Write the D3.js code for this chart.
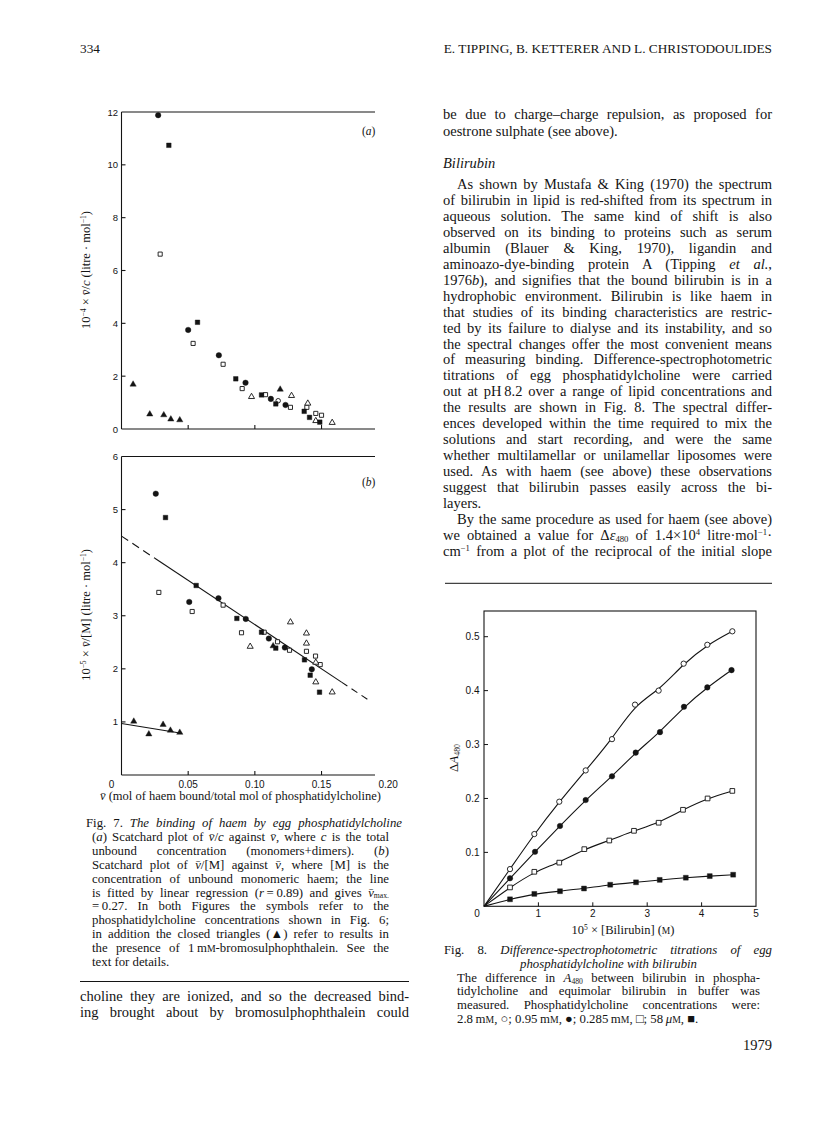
<!DOCTYPE html>
<html>
<head>
<meta charset="utf-8">
<script src="https://cdn.jsdelivr.net/npm/d3@7"></script>
<style>
body { margin: 0; background: #fff; }
svg { display: block; }
.serif { font-family: "Liberation Serif", "Times New Roman", serif; }
.sans { font-family: "Liberation Sans", Arial, sans-serif; }
</style>
</head>
<body>
<svg id="page" width="816" height="1136"></svg>
<script>
'use strict';

// ---- Fig. 7 data: [nu, value] ----
// (a) nu/c, 10^-4 litre/mol
let aClosedCircle = [[0.0275, 11.88], [0.050, 3.75], [0.073, 2.79], [0.093, 1.75], [0.112, 1.14], [0.123, 0.91]];
let aClosedSquare = [[0.0355, 10.74], [0.057, 4.04], [0.0857, 1.90], [0.105, 1.29], [0.1157, 0.95], [0.137, 0.67], [0.141, 0.44], [0.1487, 0.26]];
let aOpenSquare = [[0.029, 6.62], [0.0537, 3.24], [0.0762, 2.45], [0.0905, 1.53], [0.108, 1.30], [0.1267, 0.82], [0.139, 0.82], [0.1457, 0.59], [0.150, 0.52]];
let aOpenCircle = [[0.1175, 1.07]];
let aOpenTriangle = [[0.0975, 1.22], [0.1275, 1.26], [0.1397, 0.97], [0.1457, 0.31], [0.158, 0.24]];
let aClosedTriangle = [[0.0087, 1.69], [0.0212, 0.56], [0.0317, 0.53], [0.037, 0.37], [0.0437, 0.34], [0.119, 1.50]];

// (b) nu/[M], 10^-5 litre/mol
let bClosedCircle = [[0.0257, 5.30], [0.0508, 3.26], [0.0727, 3.33], [0.0932, 2.94], [0.1105, 2.57], [0.1225, 2.40], [0.1427, 1.99]];
let bClosedSquare = [[0.033, 4.85], [0.056, 3.57], [0.0865, 2.95], [0.105, 2.69], [0.1157, 2.39], [0.1372, 2.17], [0.1415, 1.88], [0.1485, 1.56]];
let bOpenSquare = [[0.028, 3.44], [0.053, 3.08], [0.0762, 3.20], [0.090, 2.68], [0.107, 2.69], [0.117, 2.51], [0.126, 2.35], [0.1387, 2.33], [0.1455, 2.24], [0.149, 2.08]];
let bOpenTriangle = [[0.0965, 2.42], [0.1267, 2.88], [0.1387, 2.67], [0.1387, 2.48], [0.1457, 2.12], [0.1457, 1.75], [0.158, 1.56]];
let bClosedTriangle = [[0.0092, 1.01], [0.0205, 0.77], [0.0312, 0.95], [0.0367, 0.84], [0.0437, 0.80], [0.1137, 2.43]];

// regression line of (b) and the short line through the bromosulphophthalein points
let fitIntercept = 4.5;
let fitVmax = 0.27;
let fitSolidFrom = 0.025, fitSolidTo = 0.165, fitEnd = 0.187;
let bspLine = [[0, 0.97], [0.045, 0.785]];

let nuTicks = [0.05, 0.10, 0.15];
let nuTickLabels = ["0", "0.05", "0.10", "0.15", "0.20"];
let aTicks = [0, 2, 4, 6, 8, 10, 12];
let bTicks = [1, 2, 3, 4, 5, 6];

// ---- Fig. 8 data: [10^5 x bilirubin (M), delta A480] ----
let pc28mM = [[0.478, 0.069], [0.925, 0.134], [1.384, 0.194], [1.869, 0.252], [2.353, 0.310], [2.776, 0.374], [3.21, 0.400], [3.67, 0.450], [4.105, 0.485], [4.565, 0.510]];
let pc095mM = [[0.478, 0.052], [0.938, 0.101], [1.397, 0.149], [1.869, 0.197], [2.353, 0.241], [2.789, 0.285], [3.235, 0.323], [3.676, 0.370], [4.105, 0.406], [4.55, 0.438]];
let pc0285mM = [[0.478, 0.035], [0.925, 0.064], [1.384, 0.081], [1.844, 0.106], [2.303, 0.122], [2.757, 0.140], [3.21, 0.155], [3.658, 0.179], [4.11, 0.200], [4.565, 0.214]];
let pc58uM = [[0.478, 0.013], [0.925, 0.023], [1.397, 0.028], [1.838, 0.033], [2.32, 0.040], [2.794, 0.0445], [3.23, 0.049], [3.71, 0.053], [4.15, 0.056], [4.58, 0.0586]];
let bilTicks = [0, 1, 2, 3, 4, 5];
let dATicks = [0.1, 0.2, 0.3, 0.4, 0.5];

// ---- page text ----
let headerLeft = "334";
let headerRight = "E. TIPPING, B. KETTERER AND L. CHRISTODOULIDES";

let rightColTop = [
    "be due to charge\u2013charge repulsion, as proposed for",
    "oestrone sulphate (see above)."];
let rightColHeading = "Bilirubin";
let rightColBody = [
    ["As shown by Mustafa & King (1970) the spectrum", "p"],
    ["of bilirubin in lipid is red-shifted from its spectrum in", "j"],
    ["aqueous solution. The same kind of shift is also", "j"],
    ["observed on its binding to proteins such as serum", "j"],
    ["albumin (Blauer & King, 1970), ligandin and", "j"],
    ["aminoazo-dye-binding protein A (Tipping <i>et al.</i>,", "j"],
    ["1976<i>b</i>), and signifies that the bound bilirubin is in a", "j"],
    ["hydrophobic environment. Bilirubin is like haem in", "j"],
    ["that studies of its binding characteristics are restric-", "j"],
    ["ted by its failure to dialyse and its instability, and so", "j"],
    ["the spectral changes offer the most convenient means", "j"],
    ["of measuring binding. Difference-spectrophotometric", "j"],
    ["titrations of egg phosphatidylcholine were carried", "j"],
    ["out at pH\u20098.2 over a range of lipid concentrations and", "j"],
    ["the results are shown in Fig. 8. The spectral differ-", "j"],
    ["ences developed within the time required to mix the", "j"],
    ["solutions and start recording, and were the same", "j"],
    ["whether multilamellar or unilamellar liposomes were", "j"],
    ["used. As with haem (see above) these observations", "j"],
    ["suggest that bilirubin passes easily across the bi-", "j"],
    ["layers.", "l"],
    ["By the same procedure as used for haem (see above)", "p"],
    ["we obtained a value for \u0394<i>\u03b5</i><sub>480</sub> of 1.4\u00d710<sup>4</sup> litre\u00b7mol<sup>\u22121</sup>\u00b7", "j"],
    ["cm<sup>\u22121</sup> from a plot of the reciprocal of the initial slope", "j"]];

let leftColBottom = [
    ["choline they are ionized, and so the decreased bind-", "j"],
    ["ing brought about by bromosulphophthalein could", "j"]];

let fig7Caption = [
    ["Fig. 7. <i>The binding of haem by egg phosphatidylcholine</i>", "t"],
    ["(<i>a</i>) Scatchard plot of <i>v\u0304</i>/<i>c</i> against <i>v\u0304</i>, where <i>c</i> is the total", "j"],
    ["unbound concentration (monomers+dimers). (<i>b</i>)", "j"],
    ["Scatchard plot of <i>v\u0304</i>/[M] against <i>v\u0304</i>, where [M] is the", "j"],
    ["concentration of unbound monomeric haem; the line", "j"],
    ["is fitted by linear regression (<i>r</i>\u2009=\u20090.89) and gives <i>v\u0304</i><sub>max.</sub>", "j"],
    ["=\u20090.27. In both Figures the symbols refer to the", "j"],
    ["phosphatidylcholine concentrations shown in Fig. 6;", "j"],
    ["in addition the closed triangles (\u25b2) refer to results in", "j"],
    ["the presence of 1\u2009m<sc>M</sc>-bromosulphophthalein. See the", "j"],
    ["text for details.", "l"]];

let fig8Caption = [
    ["Fig. 8. <i>Difference-spectrophotometric titrations of egg</i>", "t"],
    ["<i>phosphatidylcholine with bilirubin</i>", "c"],
    ["The difference in <i>A</i><sub>480</sub> between bilirubin in phospha-", "j"],
    ["tidylcholine and equimolar bilirubin in buffer was", "j"],
    ["measured. Phosphatidylcholine concentrations were:", "j"],
    ["2.8\u2009m<sc>M</sc>, \u25cb; 0.95\u2009m<sc>M</sc>, \u25cf; 0.285\u2009m<sc>M</sc>, \u25a1; 58\u2009<i>\u03bc</i><sc>M</sc>, \u25a0.", "l"]];

const ink = "#141414";
const bodySize = 14.5, capSize = 12.8;
const svg = d3.select("#page");

// text with <i>, <sub>, <sup>, <sc> runs
function rich(parent, str, x, y, size, cls) {
    let t = parent.append("text").attr("class", cls || "serif")
        .attr("x", x).attr("y", y).attr("font-size", size).attr("fill", ink);
    let it = false, sub = false, sup = false, sc = false, off = 0;
    str.split(/(<\/?(?:i|sub|sup|sc)>)/).forEach(tok => {
        if (tok === "") return;
        let m = tok.match(/^<(\/?)(i|sub|sup|sc)>$/);
        if (m) {
            let on = m[1] === "";
            if (m[2] === "i") it = on;
            else if (m[2] === "sub") sub = on;
            else if (m[2] === "sup") sup = on;
            else sc = on;
            return;
        }
        let want = sub ? size * 0.15 : (sup ? -size * 0.34 : 0);
        let ts = t.append("tspan").text(tok);
        if (want !== off) { ts.attr("dy", want - off); off = want; }
        if (it) ts.attr("font-style", "italic");
        if (sub || sup) ts.attr("font-size", size * 0.6);
        else if (sc) ts.attr("font-size", size * 0.76);
    });
    return t;
}

function justify(t, x0, x1) {
    let n = t.node();
    let w = n.getComputedTextLength();
    let spaces = (n.textContent.match(/ /g) || []).length;
    if (w > x1 - x0) {
        t.attr("textLength", x1 - x0).attr("lengthAdjust", "spacingAndGlyphs");
    } else if (spaces > 0) {
        t.style("word-spacing", ((x1 - x0 - w) / spaces) + "px");
    }
}

function setLines(lines, x0, x1, y0, step, size, indent, firstX0, firstX1) {
    lines.forEach((ln, i) => {
        let [str, mode] = ln;
        let y = y0 + i * step;
        if (mode === "c") {
            rich(svg, str, (x0 + x1) / 2, y, size).attr("text-anchor", "middle");
        } else if (mode === "t") {
            justify(rich(svg, str, firstX0, y, size), firstX0, firstX1);
        } else {
            let xs = mode === "p" ? x0 + indent : x0;
            let t = rich(svg, str, xs, y, size);
            if (mode !== "l") justify(t, xs, x1);
        }
    });
}

// ---- header ----
svg.append("text").attr("class", "serif").attr("x", 80).attr("y", 53)
    .attr("font-size", 13.3).attr("fill", ink).text(headerLeft);
svg.append("text").attr("class", "serif").attr("x", 772).attr("y", 53)
    .attr("font-size", 13.3).attr("fill", ink).attr("text-anchor", "end").text(headerRight);

// ---- right column text ----
const rL = 443, rR = 772;
rightColTop.forEach((s, i) => {
    let t = rich(svg, s, rL, 119 + i * 17, bodySize);
    if (i === 0) justify(t, rL, rR);
});
rich(svg, "<i>" + rightColHeading + "</i>", rL, 167.5, bodySize);
setLines(rightColBody, rL, rR, 189, 15.95, bodySize, 14);

// ---- left column bottom text ----
const lL = 80, lR = 409;
setLines(leftColBottom, lL, lR, 1001, 15.5, bodySize, 0);
svg.append("line").attr("x1", lL).attr("x2", lR).attr("y1", 981.5).attr("y2", 981.5)
    .attr("stroke", ink).attr("stroke-width", 1);

// ---- Fig. 7 ----
const x7 = d3.scaleLinear().domain([0, 0.20]).range([121.5, 388.2]);
const ya = d3.scaleLinear().domain([0, 12]).range([429, 112]);
const yb = d3.scaleLinear().domain([0, 6]).range([775, 456.5]);
const frameRight = 375;

function marker(g, data, x, y, shape, filled, size) {
    let sym = d3.symbol().type(shape).size(size);
    g.selectAll(null).data(data).enter().append("path")
        .attr("d", sym)
        .attr("transform", d => `translate(${x(d[0])},${y(d[1])})`)
        .attr("fill", filled ? ink : "#fff")
        .attr("stroke", ink)
        .attr("stroke-width", filled ? 0.4 : 0.9);
}

function fig7Panel(y, ticks, top, label, labelY, sets) {
    let g = svg.append("g");
    let line = (x1, y1, x2, y2) => g.append("line").attr("x1", x1).attr("y1", y1)
        .attr("x2", x2).attr("y2", y2).attr("stroke", ink).attr("stroke-width", 1.1);
    line(x7(0), y(top), x7(0), y(0));
    line(x7(0), y(top), frameRight, y(top));
    line(x7(0), y(0), frameRight, y(0));
    nuTicks.forEach(v => line(x7(v), y(0), x7(v), y(0) - 4));
    ticks.forEach(v => { if (v > 0 && v < top) line(x7(0), y(v), x7(0) + 4, y(v)); });
    g.selectAll(null).data(ticks).enter().append("text")
        .attr("class", "sans").attr("font-size", 9.5).attr("fill", ink)
        .attr("text-anchor", "end")
        .attr("x", x7(0) - 3.5).attr("y", d => y(d) + 3.5).text(d => d);
    g.append("text").attr("class", "serif").attr("font-size", 11.5).attr("fill", ink)
        .attr("x", 362).attr("y", labelY).html("(<tspan font-style='italic'>" + label + "</tspan>)");
    sets.forEach(s => marker(g, s[0], x7, y, s[1], s[2], s[3]));
    return g;
}

const circ = d3.symbolCircle, sq = d3.symbolSquare, tri = d3.symbolTriangle;
fig7Panel(ya, aTicks, 12, "a", 135, [
    [aOpenSquare, sq, false, 17], [aOpenCircle, circ, false, 16], [aOpenTriangle, tri, false, 16],
    [aClosedCircle, circ, true, 24], [aClosedSquare, sq, true, 21], [aClosedTriangle, tri, true, 17]]);

const gb = fig7Panel(yb, bTicks, 6, "b", 486, []);
// fitted line of (b): solid middle, dashed ends
let fit = v => fitIntercept * (1 - v / fitVmax);
[[0, fitSolidFrom, "8,5"], [fitSolidFrom, fitSolidTo, null], [fitSolidTo, fitEnd, "7,5"]].forEach(seg => {
    gb.append("line").attr("x1", x7(seg[0])).attr("y1", yb(fit(seg[0])))
        .attr("x2", x7(seg[1])).attr("y2", yb(fit(seg[1])))
        .attr("stroke", ink).attr("stroke-width", 1.1)
        .attr("stroke-dasharray", seg[2]);
});
gb.append("path").datum(bspLine)
    .attr("d", d3.line().x(d => x7(d[0])).y(d => yb(d[1])))
    .attr("stroke", ink).attr("stroke-width", 1.1).attr("fill", "none");
[[bOpenSquare, sq, false, 17], [bOpenTriangle, tri, false, 16],
 [bClosedCircle, circ, true, 24], [bClosedSquare, sq, true, 21], [bClosedTriangle, tri, true, 17]]
    .forEach(s => marker(gb, s[0], x7, yb, s[1], s[2], s[3]));

// shared x tick labels and titles
svg.selectAll(null).data(nuTickLabels).enter().append("text")
    .attr("class", "sans").attr("font-size", 10).attr("fill", ink).attr("text-anchor", "middle")
    .attr("x", (d, i) => i === 0 ? x7(0) - 10 : x7(i * 0.05)).attr("y", 788).text(d => d);
rich(svg, "<i>v\u0304</i> (mol of haem bound/total mol of phosphatidylcholine)", 100, 800, 12.5);
rich(svg, "10<sup>\u22124</sup> \u00d7 <i>v\u0304</i>/<i>c</i> (litre \u00b7 mol<sup>\u22121</sup>)", 0, 0, 12.5)
    .attr("text-anchor", "middle").attr("transform", "translate(90,270) rotate(-90)");
rich(svg, "10<sup>\u22125</sup> \u00d7 <i>v\u0304</i>/[M] (litre \u00b7 mol<sup>\u22121</sup>)", 0, 0, 12.5)
    .attr("text-anchor", "middle").attr("transform", "translate(90,615) rotate(-90)");

setLines(fig7Caption, 92, 389, 827, 13.9, capSize, 0, 86, 402);

// ---- Fig. 8 ----
svg.append("line").attr("x1", 445).attr("x2", 772).attr("y1", 583.3).attr("y2", 583.3)
    .attr("stroke", ink).attr("stroke-width", 1);
const x8 = d3.scaleLinear().domain([0, 5]).range([484, 756]);
const y8 = d3.scaleLinear().domain([0, 0.5]).range([906.3, 636.7]);
const g8 = svg.append("g");
g8.append("rect").attr("x", x8(0)).attr("y", 611).attr("width", x8(5) - x8(0))
    .attr("height", y8(0) - 611).attr("fill", "none").attr("stroke", ink).attr("stroke-width", 1.1);
bilTicks.forEach(v => {
    if (v > 0 && v < 5) g8.append("line").attr("x1", x8(v)).attr("x2", x8(v))
        .attr("y1", y8(0)).attr("y2", y8(0) - 4).attr("stroke", ink);
});
dATicks.forEach(v => g8.append("line").attr("x1", x8(0)).attr("x2", x8(0) + 4)
    .attr("y1", y8(v)).attr("y2", y8(v)).attr("stroke", ink));
g8.selectAll(null).data(bilTicks).enter().append("text")
    .attr("class", "sans").attr("font-size", 10).attr("fill", ink).attr("text-anchor", "middle")
    .attr("x", d => d === 0 ? x8(0) - 7 : x8(d)).attr("y", 917).text(d => d);
g8.selectAll(null).data(dATicks).enter().append("text")
    .attr("class", "sans").attr("font-size", 10).attr("fill", ink).attr("text-anchor", "end")
    .attr("x", 479.5).attr("y", d => y8(d) + 3.5).text(d => d.toFixed(1));

const curve8 = d3.line().x(d => x8(d[0])).y(d => y8(d[1])).curve(d3.curveBasis);
[pc28mM, pc095mM, pc0285mM, pc58uM].forEach(s => {
    g8.append("path").datum([[0, 0]].concat(s)).attr("d", curve8)
        .attr("fill", "none").attr("stroke", ink).attr("stroke-width", 1.1);
});
marker(g8, pc28mM, x8, y8, circ, false, 22);
marker(g8, pc095mM, x8, y8, circ, true, 24);
marker(g8, pc0285mM, x8, y8, sq, false, 22);
marker(g8, pc58uM, x8, y8, sq, true, 24);

rich(svg, "10<sup>5</sup> \u00d7 [Bilirubin] (<sc>M</sc>)", 623, 934, 12.5).attr("text-anchor", "middle");
rich(svg, "\u0394<i>A</i><sub>480</sub>", 0, 0, 13)
    .attr("text-anchor", "middle").attr("transform", "translate(458,758) rotate(-90)");

setLines(fig8Caption, 457, 760, 954, 13.8, capSize, 0, 444, 772);
svg.append("text").attr("class", "serif").attr("x", 772).attr("y", 1050)
    .attr("font-size", bodySize).attr("fill", ink).attr("text-anchor", "end").text("1979");
</script>
</body>
</html>
